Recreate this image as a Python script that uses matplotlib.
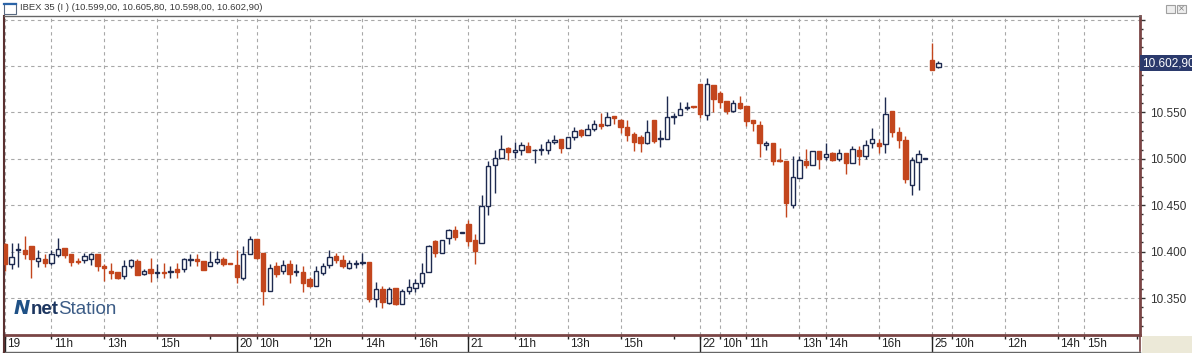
import matplotlib
matplotlib.use('Agg')
import matplotlib.pyplot as plt
from matplotlib import transforms as mtrans
from matplotlib.patches import Rectangle
from matplotlib.lines import Line2D
import numpy as np

# ---------------- data (15-minute candles, IBEX 35) ----------------
opens = [10408, 10387, 10401.5, 10402, 10406, 10390, 10392, 10388, 10396, 10404,
         10397, 10389.5, 10391, 10392, 10397, 10384.5, 10379.5, 10378, 10374, 10384,
         10390, 10376, 10381, 10377, 10378, 10378, 10381, 10381, 10391, 10392,
         10390, 10384, 10389, 10392, 10387.5, 10385.5, 10372, 10397, 10413.5, 10399,
         10358, 10384, 10379, 10386.5, 10378, 10378, 10370, 10363, 10377.5, 10385.5,
         10395, 10391.5, 10382, 10386.5, 10388, 10389, 10349, 10359.5, 10345, 10360.5,
         10344, 10358, 10360.5, 10366.5, 10378.5, 10411, 10399, 10414.5, 10423, 10420.5,
         10430, 10412, 10409.5, 10449, 10493, 10501, 10512, 10507, 10510, 10513.5,
         10509, 10510, 10510, 10518, 10521.5, 10512, 10523, 10531.5, 10525.5, 10532.5,
         10537.5, 10536.5, 10546.5, 10541.5, 10534, 10526.5, 10523.5, 10517, 10542, 10521.5,
         10521.5, 10545, 10547, 10554.5, 10556, 10581, 10547, 10580, 10571, 10562,
         10551.5, 10560, 10556.5, 10542, 10536, 10514.5, 10517, 10498.5, 10497.5, 10450,
         10479, 10497.5, 10493, 10508.5, 10502, 10506.5, 10500, 10506.5, 10495, 10510,
         10502.5, 10516.5, 10517, 10516, 10551, 10529, 10520.5, 10471.5, 10496.5, 10499.5,
         10606, 10599]
highs = [10409, 10409, 10409, 10417, 10406, 10402, 10397, 10402, 10415, 10404,
         10397, 10393, 10399, 10398, 10397, 10387, 10388, 10378, 10391, 10392,
         10392, 10381, 10393, 10387, 10388, 10385, 10388, 10393, 10397, 10397,
         10390, 10401, 10401, 10394, 10388, 10402, 10406, 10417, 10414, 10399,
         10387, 10389, 10391, 10391, 10386.5, 10384, 10373, 10384, 10388, 10402,
         10399, 10396, 10391, 10391.5, 10398, 10389, 10367.5, 10363, 10362, 10360.5,
         10359.5, 10371, 10371, 10388, 10407.5, 10413, 10413, 10424, 10427.5, 10421,
         10434, 10419.5, 10461, 10497.5, 10509, 10526, 10513, 10518, 10518, 10518,
         10511, 10516, 10521.5, 10526, 10521.5, 10523.5, 10534, 10532.5, 10537, 10542,
         10549, 10550, 10546.5, 10542.5, 10541.5, 10529, 10525.5, 10542, 10542, 10531.5,
         10568, 10549, 10561, 10561, 10556, 10581, 10587, 10580, 10573.5, 10562,
         10563.5, 10568, 10556.5, 10542, 10540.5, 10519, 10517, 10512, 10497.5, 10502.5,
         10502.5, 10510.5, 10508.5, 10508.5, 10516.5, 10507.5, 10511, 10506.5, 10513.5, 10513.5,
         10520.5, 10533.5, 10521.5, 10567, 10551, 10534, 10525, 10502, 10509, 10499.5,
         10624.5, 10605.8]
lows = [10379, 10381, 10383, 10392, 10372, 10383, 10383, 10386, 10394, 10393,
        10384, 10387, 10388, 10386, 10379, 10368, 10371, 10370, 10371, 10382,
        10375, 10375, 10367, 10372, 10372, 10372, 10372, 10378, 10385, 10385,
        10380, 10384, 10387, 10385, 10386.5, 10366, 10369, 10397, 10392, 10342.5,
        10358, 10373, 10376, 10366.5, 10374, 10357, 10362, 10363, 10375, 10382.5,
        10388, 10382, 10381, 10382.5, 10385.5, 10346, 10340, 10339, 10344, 10342.5,
        10344, 10354, 10357, 10361.5, 10378.5, 10394.5, 10399, 10408, 10413, 10420,
        10406, 10387, 10409.5, 10439, 10463, 10501, 10499, 10501, 10504, 10507,
        10495.5, 10504, 10505.5, 10515.5, 10506, 10512, 10520, 10524, 10525.5, 10530,
        10532.5, 10535, 10537.5, 10528, 10519, 10508.5, 10507.5, 10515.5, 10517, 10513,
        10521.5, 10537, 10547, 10553, 10555, 10544, 10542, 10550.5, 10555, 10548.5,
        10550.5, 10554, 10535, 10530, 10502, 10510, 10493, 10496.5, 10437.5, 10447.5,
        10479, 10490.5, 10493, 10488.5, 10498.5, 10497.5, 10497.5, 10483.5, 10495, 10493,
        10500, 10512, 10506, 10506, 10523, 10512, 10474, 10461, 10466, 10499.5,
        10596, 10598]
closes = [10387, 10394, 10401.5, 10397, 10392, 10393, 10388, 10397, 10403, 10396,
          10389, 10389, 10395, 10397, 10384, 10382, 10377.5, 10372, 10384, 10391,
          10375, 10379, 10377, 10377, 10377.5, 10378, 10378, 10392, 10391, 10389.5,
          10380, 10389, 10392, 10387, 10387, 10373, 10397, 10414, 10393, 10358,
          10382, 10376, 10385.5, 10376, 10378, 10366.5, 10363, 10379, 10384, 10394.5,
          10391.5, 10384.5, 10387.5, 10387.5, 10388, 10348.5, 10359.5, 10346, 10359.5, 10344,
          10358, 10362, 10366.5, 10377.5, 10406.5, 10399, 10413, 10423, 10416, 10420.5,
          10411, 10401, 10449, 10492, 10501, 10511, 10507, 10510, 10514.5, 10507.5,
          10509, 10510, 10518, 10520.5, 10512, 10523, 10530, 10525.5, 10532.5, 10537,
          10535.5, 10545, 10544, 10534, 10525.5, 10518, 10517, 10529, 10519, 10521.5,
          10545.5, 10545.5, 10554, 10554.5, 10555.5, 10548.5, 10581, 10564.5, 10561, 10551.5,
          10560, 10555, 10540.5, 10538.5, 10517, 10517, 10497.5, 10497.5, 10452, 10480,
          10499, 10493, 10508.5, 10500, 10505.5, 10498.5, 10506.5, 10495, 10511, 10502.5,
          10515, 10521.5, 10513.5, 10548.5, 10529, 10520, 10478.5, 10498.5, 10505, 10499.5,
          10596, 10602.9]

day_ticks = [0, 35, 70, 105, 140]
day_labels = ['19', '20', '21', '22', '25']
hour_ticks = [7, 15, 23, 31, 38, 46, 54, 62, 77, 85, 93, 101,
              108, 112, 120, 124, 132, 143, 151, 159, 163, 171]
hour_labels = ['11h', '13h', '15h', '', '10h', '12h', '14h', '16h', '11h', '13h', '15h', '',
               '10h', '11h', '13h', '14h', '16h', '10h', '12h', '14h', '15h', '']
y_ticks = [10350, 10400, 10450, 10500, 10550, 10600, 10650]
y_labels = ['10.350', '10.400', '10.450', '10.500', '10.550', '', '']
last_price = 10602.9
last_label = '10.602,90'
title = 'IBEX 35 (I ) (10.599,00, 10.605,80, 10.598,00, 10.602,90)'

# ---------------- styling ----------------
RED = '#c3461d'
NAVY = '#1e2a50'
GRID = '#a8a8a8'
AXC = '#7a4545'
FONT = 'Liberation Sans'

W, H = 1192, 353
fig = plt.figure(figsize=(W / 100, H / 100), dpi=100)
fig.patch.set_facecolor('white')

def fx(px):
    return px / W

def fy(py):
    return 1 - py / H

ax = fig.add_axes([fx(4), fy(335), fx(1140) - fx(4), fy(16) - fy(335)])
ax.set_facecolor('white')

o = np.array(opens, float)
h = np.array(highs, float)
l = np.array(lows, float)
c = np.array(closes, float)
x = np.arange(len(o))
up = c >= o
col = np.where(up, NAVY, RED)

# wicks
ax.vlines(x, l, h, colors=col, linewidth=1.0, zorder=2)
# bodies
bottoms = np.minimum(o, c)
heights = np.maximum(np.abs(c - o), 1.0)
ax.bar(x[up], heights[up], bottom=bottoms[up], width=0.66,
       facecolor='white', edgecolor=NAVY, linewidth=1.0, zorder=3)
ax.bar(x[~up], heights[~up], bottom=bottoms[~up], width=0.66,
       facecolor=RED, edgecolor=RED, linewidth=1.0, zorder=3)

ax.set_xlim(-0.15, 171.45)
ax.set_ylim(10310.2, 10653.8)

# grid (labelled time ticks + price levels)
grid_x = day_ticks + [t for t, lab in zip(hour_ticks, hour_labels) if lab]
for gx in grid_x:
    ax.axvline(gx, color=GRID, linewidth=0.8, linestyle=(0, (3, 3)), zorder=1)
for gy in y_ticks:
    ax.axhline(gy, color=GRID, linewidth=0.8, linestyle=(0, (3, 3)), zorder=1)

# spines
ax.spines['left'].set_color('#5a3030')
ax.spines['left'].set_linewidth(1.5)
ax.spines['bottom'].set_color(AXC)
ax.spines['bottom'].set_linewidth(2)
ax.spines['right'].set_color(AXC)
ax.spines['right'].set_linewidth(2)
ax.spines['top'].set_color('#666666')
ax.spines['top'].set_linewidth(1)

# x axis ticks
ax.set_xticks(day_ticks, day_labels)
ax.set_xticks(hour_ticks, hour_labels, minor=True)
ax.tick_params(axis='x', which='both', direction='out', length=3, width=1,
               color='#222222', pad=-0.5, labelsize=8.5, labelcolor='#222222')
offset = mtrans.ScaledTranslation(2.5 / 100, 0, fig.dpi_scale_trans)
for lab in ax.get_xticklabels(which='both'):
    lab.set_horizontalalignment('left')
    lab.set_fontfamily(FONT)
    lab.set_transform(lab.get_transform() + offset)
# day separators through the label band
btrans = mtrans.blended_transform_factory(ax.transData, ax.transAxes)
ax.vlines(day_ticks, -17 / 319, 0, colors='#222222', linewidth=1, transform=btrans,
          clip_on=False)

# y axis on the right
ax.yaxis.tick_right()
ax.set_yticks(y_ticks, y_labels)
ax.set_yticks(np.arange(10320, 10660, 10), minor=True)
ax.tick_params(axis='y', which='major', direction='out', length=3.5, width=1,
               color='#333333', pad=3.5, labelsize=8.5, labelcolor='#333333')
ax.tick_params(axis='y', which='minor', direction='out', length=2, width=1,
               color='#333333')
for lab in ax.get_yticklabels():
    lab.set_fontfamily(FONT)
ax.tick_params(axis='both', which='both', left=False, top=False)

# last price box
rtrans = mtrans.blended_transform_factory(ax.transAxes, ax.transData)
ax.text(1.0015, last_price, last_label, transform=rtrans, ha='left', va='center',
        fontsize=8.5, family=FONT, color='white', clip_on=False, zorder=6,
        bbox=dict(boxstyle='square,pad=0.18', facecolor='#2b3a6c', edgecolor='none'))

# ---------------- window chrome ----------------
fig.text(fx(20), fy(8), title, fontsize=6.8, family=FONT, color='#3a3a3a',
         ha='left', va='center')
fig.add_artist(Rectangle((fx(4), fy(14)), fx(12), fy(3) - fy(14), transform=fig.transFigure,
                         facecolor='white', edgecolor='#5a6a80', linewidth=0.8))
fig.add_artist(Line2D([fx(4), fx(16)], [fy(3.5), fy(3.5)], transform=fig.transFigure,
                      color='#2a64a8', linewidth=1.6))
for x0 in (1166, 1177):
    fig.add_artist(Rectangle((fx(x0), fy(13)), fx(9), fy(5) - fy(13), transform=fig.transFigure,
                             facecolor='#eeeeee', edgecolor='#a0a0a0', linewidth=0.8))
fig.text(fx(1181.5), fy(9), '×', fontsize=6, color='#808080', ha='center', va='center')

# bottom band chrome
fig.add_artist(Rectangle((fx(1142), 0), 1 - fx(1142), fy(336), transform=fig.transFigure,
                         facecolor='#ece9d8', edgecolor='none'))
fig.add_artist(Line2D([fx(1140), fx(1140)], [fy(335), fy(351)], transform=fig.transFigure,
                      color=AXC, linewidth=1.2))
fig.add_artist(Line2D([fx(3), fx(1140)], [fy(351.5), fy(351.5)], transform=fig.transFigure,
                      color='#666666', linewidth=1))
fig.add_artist(Line2D([fx(3.5), fx(3.5)], [fy(335), fy(353)], transform=fig.transFigure,
                      color='#5a3030', linewidth=1.5))

# logo
fig.text(fx(14), fy(309), 'N', fontsize=14, fontweight='bold', style='italic',
         family='DejaVu Sans', color='#1f5186', ha='left', va='center')
fig.text(fx(31), fy(309), 'net', fontsize=13.5, fontweight='bold', family=FONT,
         color='#1c355f', ha='left', va='center')
fig.text(fx(58.5), fy(309), 'Station', fontsize=13.5, family=FONT,
         color='#3c5c86', ha='left', va='center')

fig.savefig('out.png', dpi=100, facecolor='white')
